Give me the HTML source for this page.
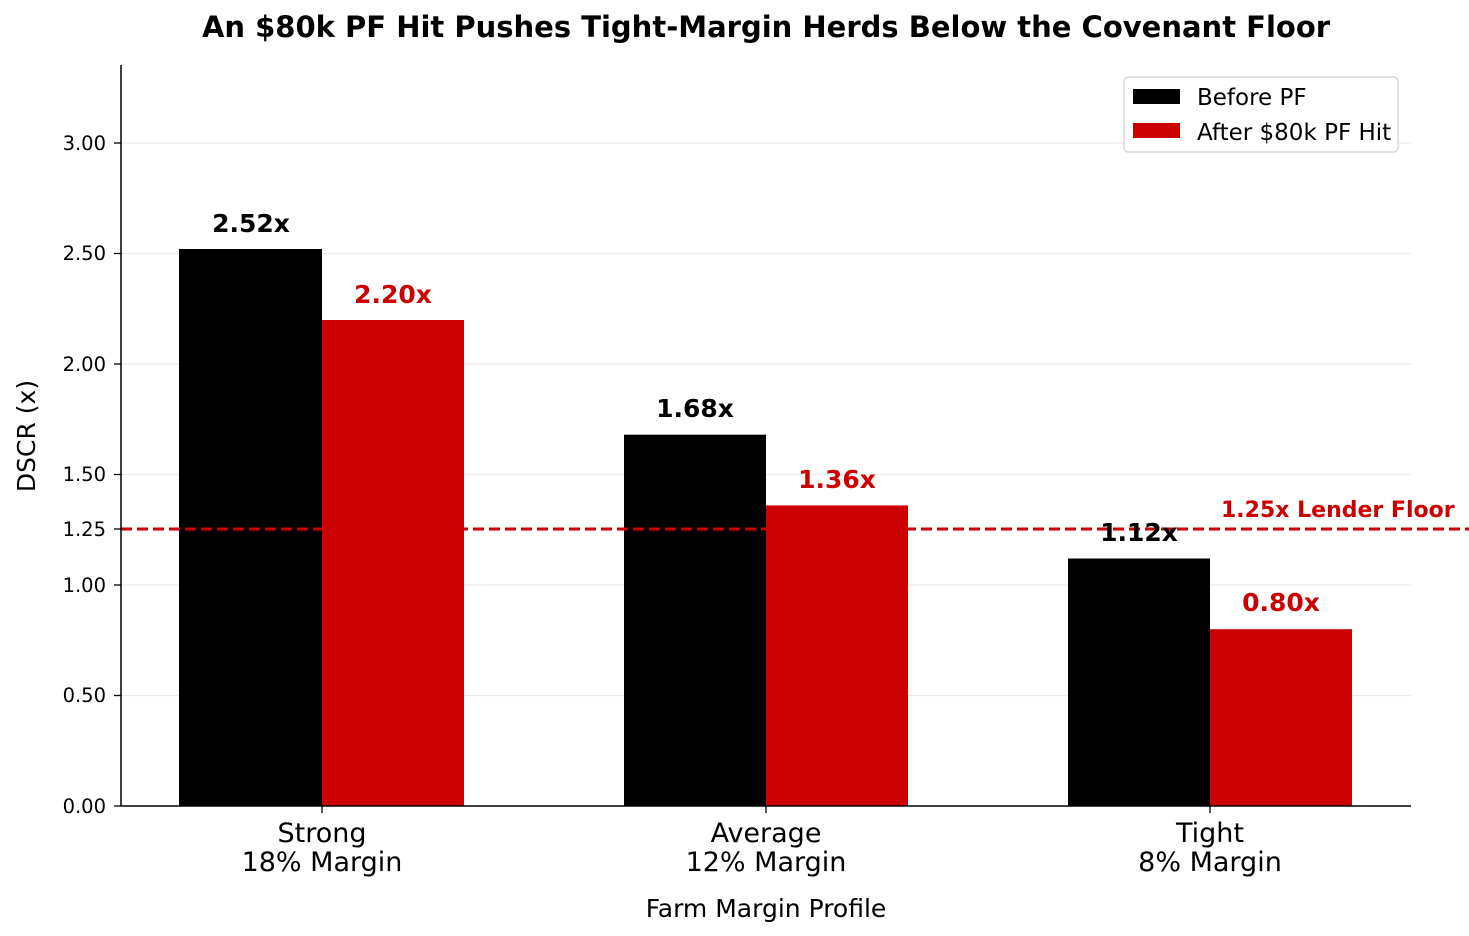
<!DOCTYPE html>
<html><head><meta charset="utf-8"><style>
html,body{margin:0;padding:0;background:#fff;}
svg{display:block;font-family:"DejaVu Sans","Liberation Sans",sans-serif;}
</style></head><body>
<svg width="1469" height="936" viewBox="0 0 1469 936" xmlns="http://www.w3.org/2000/svg">
<rect width="1469" height="936" fill="#fff"/>
<text x="766" y="37" text-anchor="middle" font-size="29" font-weight="bold">An $80k PF Hit Pushes Tight-Margin Herds Below the Covenant Floor</text>
<g stroke="#ebebeb" stroke-width="1.2">
<line x1="121" x2="1411" y1="143" y2="143"/>
<line x1="121" x2="1411" y1="253.5" y2="253.5"/>
<line x1="121" x2="1411" y1="364" y2="364"/>
<line x1="121" x2="1411" y1="474.5" y2="474.5"/>
<line x1="121" x2="1411" y1="585" y2="585"/>
<line x1="121" x2="1411" y1="695.5" y2="695.5"/>
</g>
<rect x="179" y="249" width="143" height="557" fill="#000"/>
<rect x="322" y="320" width="142" height="486" fill="#cc0000"/>
<rect x="624" y="434.7" width="142" height="371.3" fill="#000"/>
<rect x="766" y="505.4" width="142" height="300.6" fill="#cc0000"/>
<rect x="1068" y="558.5" width="142" height="247.5" fill="#000"/>
<rect x="1210" y="629.2" width="142" height="176.8" fill="#cc0000"/>
<line x1="121" x2="1469" y1="529" y2="529" stroke="#cc0000" stroke-width="3" stroke-dasharray="11,5"/>
<text x="1221" y="517" font-size="22" font-weight="bold" fill="#cc0000">1.25x Lender Floor</text>
<g font-size="25" font-weight="bold" text-anchor="middle">
<text x="251" y="232">2.52x</text>
<text x="393" y="303" fill="#cc0000">2.20x</text>
<text x="695" y="417">1.68x</text>
<text x="837" y="488" fill="#cc0000">1.36x</text>
<text x="1139" y="541">1.12x</text>
<text x="1281" y="611" fill="#cc0000">0.80x</text>
</g>
<line x1="121" x2="121" y1="65" y2="806" stroke="#000" stroke-width="1.5"/>
<line x1="121" x2="1411" y1="806" y2="806" stroke="#000" stroke-width="1.5"/>
<g stroke="#000" stroke-width="1.3">
<line x1="114" x2="121" y1="143" y2="143"/><line x1="114" x2="121" y1="253.5" y2="253.5"/>
<line x1="114" x2="121" y1="364" y2="364"/><line x1="114" x2="121" y1="474.5" y2="474.5"/>
<line x1="114" x2="121" y1="529" y2="529"/><line x1="114" x2="121" y1="585" y2="585"/>
<line x1="114" x2="121" y1="695.5" y2="695.5"/><line x1="114" x2="121" y1="806" y2="806"/>
<line x1="322" x2="322" y1="806" y2="813"/><line x1="766" x2="766" y1="806" y2="813"/><line x1="1210" x2="1210" y1="806" y2="813"/>
</g>
<g font-size="19.5" text-anchor="end">
<text x="106" y="150">3.00</text><text x="106" y="260">2.50</text><text x="106" y="371">2.00</text>
<text x="106" y="481">1.50</text><text x="106" y="536">1.25</text><text x="106" y="592">1.00</text>
<text x="106" y="702">0.50</text><text x="106" y="813">0.00</text>
</g>
<g font-size="27" text-anchor="middle">
<text x="322" y="842">Strong</text><text x="322" y="871">18% Margin</text>
<text x="766" y="842">Average</text><text x="766" y="871">12% Margin</text>
<text x="1210" y="842">Tight</text><text x="1210" y="871">8% Margin</text>
</g>
<text x="766" y="917" font-size="25" text-anchor="middle">Farm Margin Profile</text>
<text transform="translate(35,436) rotate(-90)" font-size="25" text-anchor="middle">DSCR (x)</text>
<rect x="1124" y="77" width="274" height="75" rx="4" fill="#fff" stroke="#d0d0d0" stroke-width="1.2"/>
<rect x="1133" y="89" width="47" height="15" fill="#000"/>
<rect x="1133" y="123" width="47" height="15" fill="#cc0000"/>
<text x="1197" y="105" font-size="23">Before PF</text>
<text x="1197" y="140" font-size="23">After $80k PF Hit</text>
</svg>
</body></html>
